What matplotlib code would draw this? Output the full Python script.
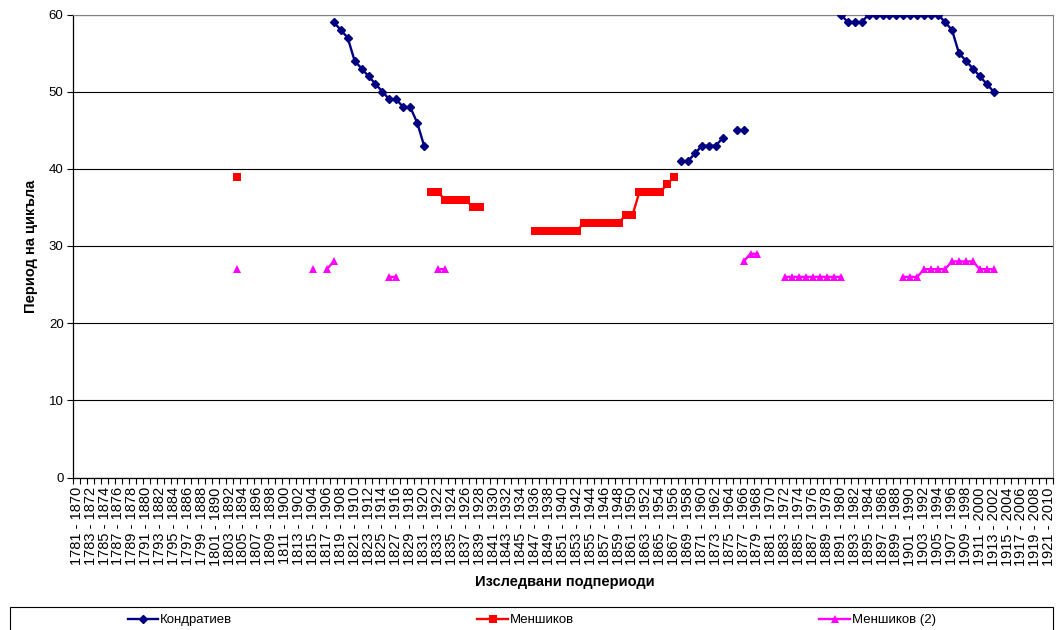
import numpy as np
import matplotlib.pyplot as plt
from matplotlib.patches import Rectangle

plt.rcParams['font.family'] = ['Liberation Sans', 'DejaVu Sans']

# categories: 90-year windows, shifted by one year
start_years = np.arange(1781, 1922)
period_labels = [f"{y} - {y + 89}" for y in start_years]

# values: (first start year, values)
kondratiev_runs = [
    (1818, [59, 58, 57, 54, 53, 52, 51, 50, 49, 49, 48, 48, 46, 43]),
    (1868, [41, 41, 42, 43, 43, 43, 44]),
    (1876, [45, 45]),
    (1891, [60, 59, 59, 59, 60, 60, 60, 60, 60, 60, 60, 60, 60, 60, 60,
            59, 58, 55, 54, 53, 52, 51, 50]),
]
menshikov_runs = [
    (1804, [39]),
    (1832, [37, 37, 36, 36, 36, 36, 35, 35]),
    (1847, [32, 32, 32, 32, 32, 32, 32, 33, 33, 33, 33, 33, 33, 34, 34,
            37, 37, 37, 37, 38, 39]),
]
menshikov2_runs = [
    (1804, [27]),
    (1815, [27]),
    (1817, [27, 28]),
    (1826, [26, 26]),
    (1833, [27, 27]),
    (1877, [28, 29, 29]),
    (1883, [26, 26, 26, 26, 26, 26, 26, 26, 26]),
    (1900, [26, 26, 26, 27, 27, 27, 27, 28, 28, 28, 28, 27, 27, 27]),
]


def fill_runs(runs):
    s = np.full(len(start_years), np.nan)
    for y0, vals in runs:
        i0 = y0 - start_years[0]
        s[i0:i0 + len(vals)] = vals
    return s


n = len(start_years)
x = np.arange(n)

fig = plt.figure(figsize=(10.64, 6.30), dpi=100)
ax = fig.add_axes([73.3 / 1064, 1 - 477.5 / 630, (1052.7 - 73.3) / 1064, (477.5 - 14.5) / 630])

ax.plot(x, fill_runs(kondratiev_runs), color='#000080', marker='D', ms=4.4, lw=1.7,
        label='Кондратиев', zorder=3)
ax.plot(x, fill_runs(menshikov_runs), color='#FF0000', marker='s', ms=5.6, mew=0, lw=1.7,
        label='Меншиков', zorder=3)
ax.plot(x, fill_runs(menshikov2_runs), color='#FF00FF', marker='^', ms=6.2, mew=0, lw=1.7,
        label='Меншиков (2)', zorder=3)

ax.set_xlim(-0.5, n - 0.5)
ax.set_ylim(0, 60)
ax.set_yticks(range(0, 61, 10))
ax.yaxis.grid(True, color='black', lw=0.8)
ax.set_axisbelow(True)
for side in ('top', 'right'):
    ax.spines[side].set_color('#808080')
for side in ('left', 'bottom'):
    ax.spines[side].set_color('black')
    ax.spines[side].set_linewidth(0.9)

ax.set_xticks(x[::2])
ax.set_xticklabels(period_labels[::2], rotation=90, fontsize=10.5)
ax.set_xticks(np.arange(-0.5, n, 1), minor=True)
ax.tick_params(axis='x', which='major', length=0, pad=7)
ax.tick_params(axis='x', which='minor', length=4, width=0.8)
ax.tick_params(axis='y', length=4, width=0.8, labelsize=9.5, pad=3)

ax.set_xlabel('Изследвани подпериоди', fontsize=10.5, fontweight='bold')
ax.set_ylabel('Период на цикъла', fontsize=10.5, fontweight='bold')
ax.xaxis.set_label_coords(0.502, -0.211)
ax.yaxis.set_label_coords(-0.036, 0.5)

fig.legend(loc='center left', bbox_to_anchor=(121 / 1064, 1 - 620 / 630), ncol=3,
           frameon=False, fontsize=9.5, borderpad=0, handlelength=2.3,
           handletextpad=0.15, columnspacing=18.6)
fig.patches.append(Rectangle((10 / 1064, -0.05), (1053 - 10) / 1064, 0.05 + 1 - 607 / 630,
                             transform=fig.transFigure, fill=False, ec='black', lw=0.8))

fig.savefig('out.png', dpi=100)
